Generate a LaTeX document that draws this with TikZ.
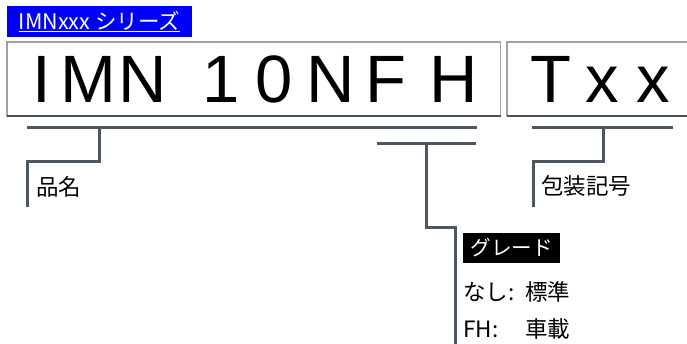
\documentclass[tikz,border=0pt]{standalone}
\usepackage{fontspec}
\newfontfamily\jpfont{Noto Sans CJK JP}
\newfontfamily\arialfont{Liberation Sans}
\definecolor{titleblue}{RGB}{0,0,250}
\definecolor{slate}{RGB}{78,86,96}
\definecolor{boxgray}{RGB}{158,162,166}
\definecolor{boxdark}{RGB}{72,80,90}
\tikzset{
  bigchar/.style={anchor=base, inner sep=0pt, font=\arialfont\fontsize{67}{67}\selectfont},
  conn/.style={draw=slate, line width=3pt},
  lbl/.style={anchor=west, inner sep=0pt, font=\jpfont\fontsize{22.5}{26}\selectfont},
  boxline/.style={draw=boxgray, line width=1.3pt},
}
\begin{document}
\begin{tikzpicture}[x=1pt,y=-1pt]
\useasboundingbox (0,0) rectangle (687,344);
% title
\node[fill=titleblue, text=white, minimum width=185pt, minimum height=31pt, inner sep=0pt,
  font=\jpfont\fontsize{21.5}{23}\selectfont] (title) at (99.5,21.5) {\underline{IMNxxx シリーズ}};
% boxes
\draw[boxline] (7,42) rectangle (500.5,116);
\draw[draw=boxdark, line width=1.3pt] (7,116) -- (500.5,116);
\draw[boxline] (690,42) -- (507,42) -- (507,116);
\draw[draw=boxdark, line width=1.3pt] (507,116) -- (690,116);
% letters
\node[bigchar] (cI) at (41.5,103) {I};
\node[bigchar] (cM) at (88.5,103) {M};
\node[bigchar] (cN) at (142.5,103) {N};
\node[bigchar] (c1) at (221,103) {1};
\node[bigchar] (c0) at (274,103) {0};
\node[bigchar] (cN2) at (331,103) {N};
\node[bigchar] (cF) at (386,103) {F};
\node[bigchar] (cH) at (453.5,103) {H};
\node[bigchar] (cT) at (551,103) {T};
\node[bigchar] (cx1) at (602,103) {x};
\node[bigchar] (cx2) at (653,103) {x};
% bracket 1: product name
\coordinate (a1) at (27,128);
\coordinate (a2) at (477,128);
\coordinate (a3) at (99,128);
\coordinate (a4) at (27,162);
\coordinate (a5) at (27,207);
\draw[conn] (a1) -- (a2);
\draw[conn] (a3) |- (a4) -- (a5);
\node[lbl] (hinmei) at (36,187) {品名};
% bracket 2: grade
\coordinate (b1) at (377,144);
\coordinate (b2) at (476,144);
\coordinate (b3) at (426,144);
\coordinate (b4) at (455,228);
\coordinate (b5) at (455,346);
\draw[conn] (b1) -- (b2);
\draw[conn] (b3) |- (b4) -- (b5);
\node[fill=black, text=white, minimum width=97pt, minimum height=30pt, inner sep=0pt,
  font=\jpfont\fontsize{20.5}{22}\selectfont] (grade) at (511.5,248) {グレード};
\node[lbl] (nashi) at (463,292) {\makebox[62pt][l]{なし:}標準};
\node[lbl] (fh) at (463,329) {\makebox[62pt][l]{FH:}車載};
% bracket 3: packaging
\coordinate (p1) at (532,128);
\coordinate (p2) at (673,128);
\coordinate (p3) at (603,128);
\coordinate (p4) at (533,162);
\coordinate (p5) at (533,207);
\draw[conn] (p1) -- (p2);
\draw[conn] (p3) |- (p4) -- (p5);
\node[lbl] (housou) at (541,186) {包装記号};
\end{tikzpicture}
\end{document}
